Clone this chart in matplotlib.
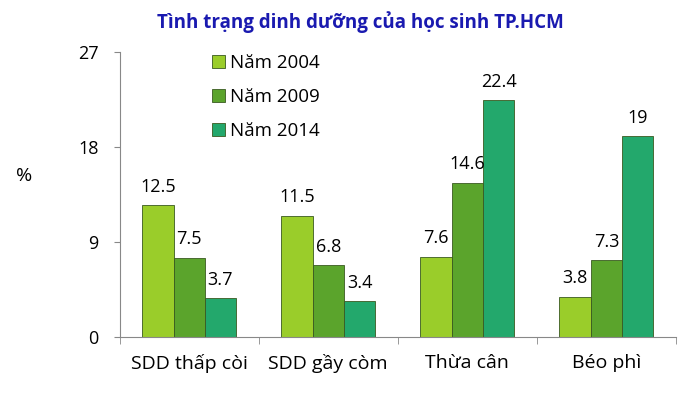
import numpy as np
import matplotlib.pyplot as plt

plt.rcParams['font.family'] = ['Open Sans', 'DejaVu Sans']

categories = ['SDD thấp còi', 'SDD gầy còm', 'Thừa cân', 'Béo phì']
years = ['Năm 2004', 'Năm 2009', 'Năm 2014']
values_2004 = [12.5, 11.5, 7.6, 3.8]
values_2009 = [7.5, 6.8, 14.6, 7.3]
values_2014 = [3.7, 3.4, 22.4, 19]
colors = ['#9acd2a', '#5ba42c', '#23a86c']

fig = plt.figure(figsize=(6.8, 3.99), dpi=100)
ax = fig.add_axes([0.176, 0.155, 0.818, 0.715])

x = np.arange(len(categories))
width = 0.225
series = [values_2004, values_2009, values_2014]
for i, (vals, lab, col) in enumerate(zip(series, years, colors)):
    pos = x + (i - 1) * width
    ax.bar(pos, vals, width, color=col, edgecolor='#3a5a20', linewidth=0.6, label=lab)
    for p, v in zip(pos, vals):
        ax.text(p, v + 0.9, f'{v:g}', ha='center', va='bottom', fontsize=13)

ax.set_xlim(-0.5, 3.5)
ax.set_ylim(0, 27)
ax.set_yticks([0, 9, 18, 27])
ax.tick_params(axis='y', labelsize=13, length=4, color='#888888', pad=11)
ax.set_xticks(x)
ax.set_xticklabels(categories, fontsize=14)
ax.tick_params(axis='x', length=0, pad=12)
ax.set_xticks(np.arange(-0.5, 4, 1), minor=True)
ax.tick_params(axis='x', which='minor', length=5, color='#888888')

for s in ['top', 'right']:
    ax.spines[s].set_visible(False)
for s in ['left', 'bottom']:
    ax.spines[s].set_color('#888888')

fig.text(0.035, 0.56, '%', fontsize=14, ha='center', va='center')
fig.text(0.53, 0.945, 'Tình trạng dinh dưỡng của học sinh TP.HCM', fontsize=13.5,
         fontweight='bold', color='#1a1ab0', ha='center', va='center')

ax.legend(loc='upper left', bbox_to_anchor=(0.135, 1.05), frameon=False, fontsize=13.5,
          handlelength=0.7, handleheight=0.7, labelspacing=0.85, handletextpad=0.3)

fig.savefig('out.png', dpi=100)
